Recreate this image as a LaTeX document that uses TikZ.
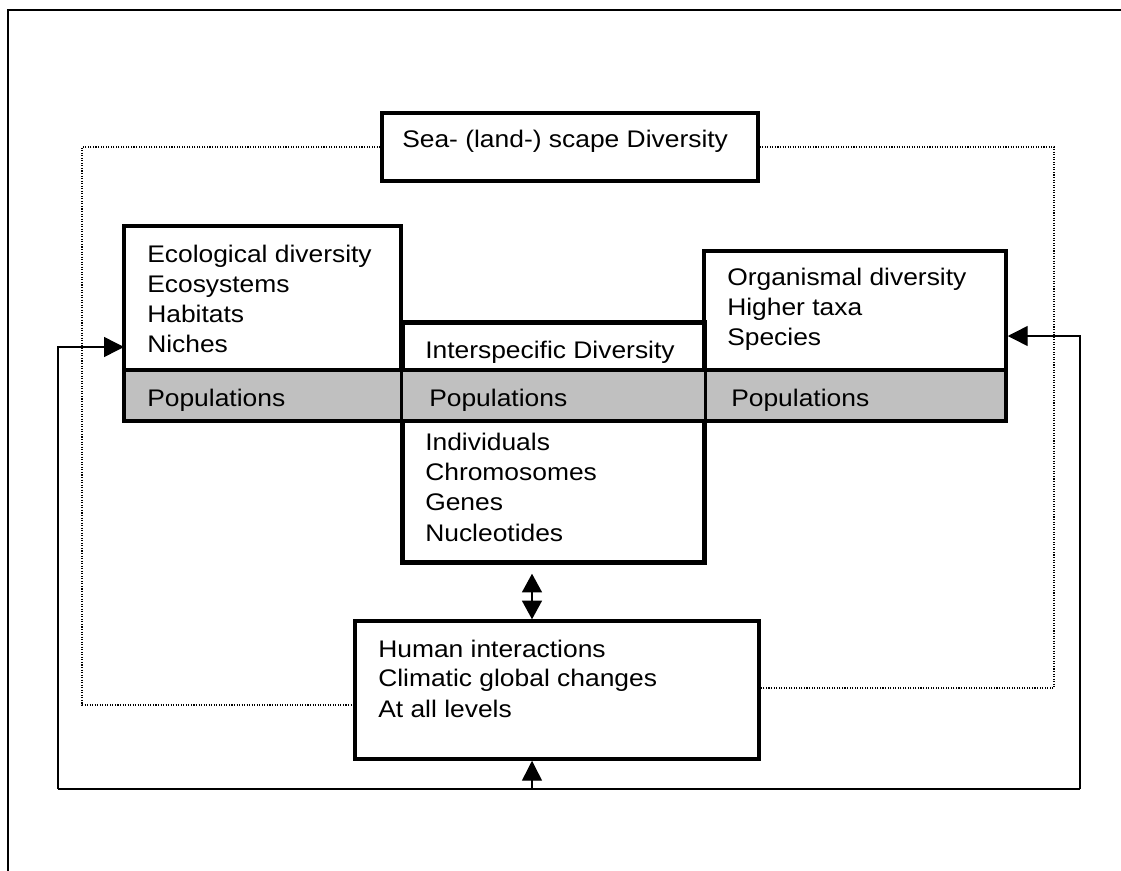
\documentclass[tikz,border=0pt]{standalone}
\usepackage{fontspec}
\setmainfont{Liberation Sans}[FakeStretch=1.1]
\usetikzlibrary{arrows.meta,fit}
\begin{document}
\begin{tikzpicture}[x=0.75pt,y=-0.75pt,
  box/.style={draw, line width=2.6pt, fill=white, inner sep=0pt},
  bandbox/.style={draw, line width=2.6pt, fill={rgb,255:red,192;green,192;blue,192}, inner sep=0pt},
  frameline/.style={draw, line width=1.1pt},
  dotline/.style={draw, line width=0.8pt, dash pattern=on 0.8pt off 1.1pt},
  arr/.style={line width=1.1pt, -{Triangle[length=15pt,width=15pt]}},
  dbl/.style={line width=1.1pt, {Triangle[length=14pt,width=15pt]}-{Triangle[length=14pt,width=15pt]}},
  txt/.style={anchor=base west, inner sep=0pt, font=\fontsize{18pt}{22.5pt}\selectfont}
]
\useasboundingbox (0,0) rectangle (1121,871);
% outer frame
\draw[frameline] (8,871) -- (8,10) -- (1121,10);

% corner coordinates
\coordinate (seaTL) at (382,113);  \coordinate (seaBR) at (758,181);
\coordinate (ecoTL) at (124,226);  \coordinate (ecoBR) at (401,421);
\coordinate (orgTL) at (704,251);  \coordinate (orgBR) at (1006,421);
\coordinate (midTL) at (403,323);  \coordinate (midBR) at (704,562);
\coordinate (bandTL) at (124,370); \coordinate (bandBR) at (1006,421);
\coordinate (humTL) at (355,621);  \coordinate (humBR) at (759,759);

% dotted frame corners
\coordinate (dTL) at (82,147);  \coordinate (dBL) at (82,705);
\coordinate (dTR) at (1054,147); \coordinate (dBR) at (1054,688);

% feedback loop coordinates
\coordinate (fbL) at (58,789);
\coordinate (fbR) at (1080,789);
\coordinate (fbM) at (532,789);
\coordinate (ecoIn) at (124,347);

% boxes
\node[box, fit=(seaTL)(seaBR)] (sea) {};
\node[box, fit=(humTL)(humBR)] (hum) {};

% dotted lines
\draw[dotline] (sea.west) -- (dTL) -- (dBL) -- (hum.west |- dBL);
\draw[dotline] (sea.east) -- (dTR) -- (dBR) -- (hum.east |- dBR);

\node[box, fit=(ecoTL)(ecoBR)] (eco) {};
\node[box, fit=(orgTL)(orgBR)] (org) {};
\node[box, fit=(midTL)(midBR)] (mid) {};
\node[bandbox, fit=(bandTL)(bandBR)] (band) {};
\draw[line width=2.6pt] (mid.north west) rectangle (mid.south east);

% texts
\node[txt] (t1) at (402,147) {Sea- (land-) scape Diversity};

\node[txt] (e1) at (147,262) {Ecological diversity};
\node[txt] (e2) at (147,292) {Ecosystems};
\node[txt] (e3) at (147,322) {Habitats};
\node[txt] (e4) at (147,352) {Niches};

\node[txt] (o1) at (727,285) {Organismal diversity};
\node[txt] (o2) at (727,315) {Higher taxa};
\node[txt] (o3) at (727,345) {Species};

\node[txt] (m0) at (425,358) {Interspecific Diversity};

\node[txt] (p1) at (147,406) {Populations};
\node[txt] (p2) at (429,406) {Populations};
\node[txt] (p3) at (731,406) {Populations};

\node[txt] (m1) at (425,450) {Individuals};
\node[txt] (m2) at (425,480) {Chromosomes};
\node[txt] (m3) at (425,510) {Genes};
\node[txt] (m4) at (425,541) {Nucleotides};

\node[txt] (h1) at (378,657) {Human interactions};
\node[txt] (h2) at (378,686) {Climatic global changes};
\node[txt] (h3) at (378,717) {At all levels};

% connectors
\draw[line width=1.1pt] (fbL) -- (fbR);
\draw[arr] (fbL) |- (ecoIn);
\draw[arr] (fbR) |- (org.east);
\draw[arr] (fbM) -- (hum.south -| fbM);
\draw[dbl, shorten <=7.5pt] (mid.south -| fbM) -- (hum.north -| fbM);
\end{tikzpicture}
\end{document}
